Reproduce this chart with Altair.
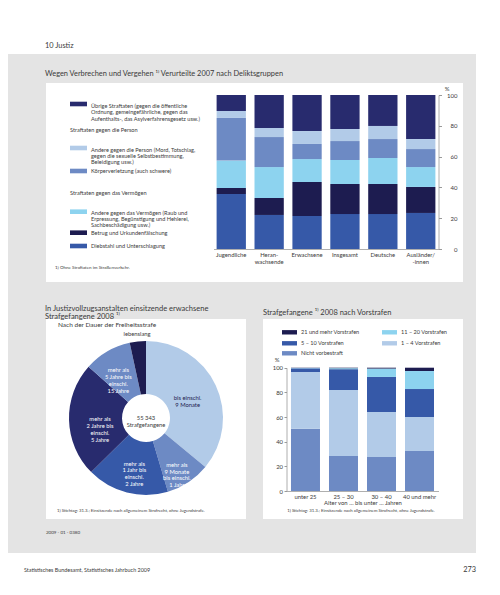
import altair as alt
import pandas as pd

# ================= DATA =================
# Chart 1: Wegen Verbrechen und Vergehen Verurteilte 2007 nach Deliktsgruppen (%)
gruppen = ["Jugendliche", "Heran-\nwachsende", "Erwachsene", "Insgesamt", "Deutsche", "Ausländer/\n-innen"]
delikte = ["Diebstahl und Unterschlagung", "Betrug und Urkundenfälschung",
           "Andere gegen das Vermögen", "Körperverletzung (auch schwere)",
           "Andere gegen die Person", "Übrige Straftaten"]
delikt_legende = [
    "Diebstahl und Unterschlagung",
    "Betrug und Urkundenfälschung",
    "Andere gegen das Vermögen (Raub und\nErpressung, Begünstigung und Hehlerei,\nSachbeschädigung usw.)",
    "Körperverletzung (auch schwere)",
    "Andere gegen die Person (Mord, Totschlag,\ngegen die sexuelle Selbstbestimmung,\nBeleidigung usw.)",
    "Übrige Straftaten (gegen die öffentliche\nOrdnung, gemeingefährliche, gegen das\nAufenthalts-, das Asylverfahrensgesetz usw.)",
]
diebstahl = [35.7, 22.1, 21.4, 22.7, 22.7, 23.4]
betrug = [3.9, 11.0, 22.1, 19.5, 19.5, 16.9]
andere_vermoegen = [17.8, 20.1, 14.9, 15.6, 16.9, 12.9]
koerperverletzung = [27.7, 19.5, 9.8, 12.3, 12.3, 11.7]
andere_person = [4.5, 5.9, 8.4, 7.8, 8.5, 6.5]
uebrige = [10.4, 21.4, 23.4, 22.1, 20.1, 28.6]
achse1 = [0, 20, 40, 60, 80, 100]

# Chart 2: Strafgefangene 2008 nach Dauer der Freiheitsstrafe (%)
dauer = ["bis einschl. 9 Monate", "mehr als 9 Monate bis einschl. 1 Jahr",
         "mehr als 1 Jahr bis einschl. 2 Jahre", "mehr als 2 Jahre bis einschl. 5 Jahre",
         "mehr als 5 Jahre bis einschl. 15 Jahre", "lebenslang"]
dauer_text = ["bis einschl.\n9 Monate", "mehr als\n9 Monate\nbis einschl.\n1 Jahr",
              "mehr als\n1 Jahr bis\neinschl.\n2 Jahre", "mehr als\n2 Jahre bis\neinschl.\n5 Jahre",
              "mehr als\n5 Jahre bis\neinschl.\n15 Jahre", "lebenslang"]
dauer_anteil = [36.0, 9.4, 17.2, 24.0, 10.0, 3.4]
gesamt_text = "55 343\nStrafgefangene"

# Chart 3: Strafgefangene 2008 nach Vorstrafen (%)
alter = ["unter 25", "25 – 30", "30 – 40", "40 und mehr"]
vorstrafen = ["Nicht vorbestraft", "1 – 4 Vorstrafen", "5 – 10 Vorstrafen",
              "11 – 20 Vorstrafen", "21 und mehr Vorstrafen"]
nicht_vorbestraft = [50.5, 28.4, 27.6, 32.4]
vorstr_1_4 = [46.0, 53.5, 36.5, 27.6]
vorstr_5_10 = [3.0, 16.9, 28.4, 22.7]
vorstr_11_20 = [0.3, 0.8, 6.8, 14.6]
vorstr_21_mehr = [0.2, 0.4, 0.7, 2.7]
achse3 = [0, 20, 40, 60, 80, 100]

# ================= STYLE / LAYOUT =================
FONT = "Lato"
TXT = "#3a3a3a"
GREY = "#e4e4e4"
AXC = "#9a9a9a"
NAVY = "#1d1c50"
DARK = "#282b6e"
MED = "#3659a8"
STEEL = "#6d8ac4"
LIGHT = "#b2cbe8"
CYAN = "#8dd3ef"

cols1 = [MED, NAVY, CYAN, STEEL, LIGHT, DARK]
cols2 = [LIGHT, STEEL, MED, DARK, STEEL, NAVY]
label_col2 = [NAVY, "white", "white", "white", "white", TXT]
label_r2 = [46, 56, 47, 46, 55, 84]
cols3 = [STEEL, LIGHT, MED, CYAN, NAVY]

W, H = 484, 579
OX, OY = 8, 8
one = alt.Data(values=[{"k": 0}])


def txt(s, x, y, size, align="left", color=TXT, lh=None, baseline="middle"):
    m = dict(font=FONT, fontSize=size, align=align, baseline=baseline, color=color, lineBreak="\n")
    if lh:
        m["lineHeight"] = lh
    return alt.Chart(one).mark_text(**m).encode(
        x=alt.value(x - OX), y=alt.value(y - OY), text=alt.value(s))


def box(x1, y1, x2, y2, color):
    return alt.Chart(one).mark_rect(color=color).encode(
        x=alt.value(x1 - OX), x2=alt.value(x2 - OX), y=alt.value(y1 - OY), y2=alt.value(y2 - OY))


layers = []
# backgrounds
layers.append(box(2, 54, 476, 553, GREY))
layers.append(box(46, 83, 463, 282, "white"))
layers.append(box(46, 319, 246, 519, "white"))
layers.append(box(263, 319, 463, 519, "white"))

# ---------- chart 1 bars ----------
series1 = [diebstahl, betrug, andere_vermoegen, koerperverletzung, andere_person, uebrige]
rows = []
for gi, g in enumerate(gruppen):
    for di, d in enumerate(delikte):
        rows.append({"gruppe": g, "delikt": d, "anteil": series1[di][gi], "ord": di})
df1 = pd.DataFrame(rows)

bars1 = alt.Chart(df1).mark_bar().encode(
    x=alt.X("gruppe:N",
            scale=alt.Scale(domain=gruppen, range=[213.5 - OX, 438.5 - OX],
                            paddingInner=0.227, paddingOuter=0.082),
            axis=alt.Axis(orient="bottom", offset=(249 - OY) - H, title=None, ticks=False,
                          zindex=1, domainColor=AXC, domainWidth=0.8, labelAngle=0,
                          labelExpr="split(datum.label, '\\n')",
                          labelFont=FONT, labelFontSize=5.9, labelColor=TXT,
                          labelPadding=2, labelBaseline="top", labelLineHeight=7)),
    y=alt.Y("anteil:Q", stack="zero",
            scale=alt.Scale(domain=[0, 100], range=[249 - OY, 95 - OY], nice=False),
            axis=alt.Axis(orient="right", offset=(438.5 - OX) - W, values=achse1, title=None,
                          zindex=1, grid=False, tickSize=3, tickColor=AXC, domainColor=AXC,
                          domainWidth=0.8, labelAlign="right", labelPadding=15.5,
                          labelFont=FONT, labelFontSize=6, labelColor=TXT)),
    color=alt.Color("delikt:N", scale=alt.Scale(domain=delikte, range=cols1), legend=None),
    order=alt.Order("ord:Q"),
)
layers.append(bars1)

# ---------- chart 2 donut ----------
df2 = pd.DataFrame({"dauer": dauer, "anteil": dauer_anteil, "ord": list(range(len(dauer))),
                    "label": dauer_text, "lr": label_r2, "tc": label_col2})
CX, CY = 146 - OX, 418 - OY
arc = alt.Chart(df2).mark_arc(innerRadius=24, outerRadius=77, x=CX, y=CY).encode(
    theta=alt.Theta("anteil:Q", stack=True),
    color=alt.Color("dauer:N", scale=alt.Scale(domain=dauer, range=cols2), legend=None),
    order=alt.Order("ord:Q"),
)
layers.append(arc)

# slice labels: placed at each slice's mid angle (computed by the library transforms)
arc_lbl = alt.Chart(df2).transform_window(
    cum="sum(anteil)", sort=[alt.SortField("ord")], frame=[None, 0]
).transform_joinaggregate(
    total="sum(anteil)"
).transform_calculate(
    mid="(datum.cum - datum.anteil / 2) / datum.total * 2 * PI",
    px=f"{CX} + datum.lr * sin(datum.mid)",
    py=f"{CY} - datum.lr * cos(datum.mid)",
).mark_text(font=FONT, fontSize=5.8, lineBreak="\n", lineHeight=6.8,
            align="center", baseline="middle").encode(
    x=alt.X("px:Q", scale=None, axis=None),
    y=alt.Y("py:Q", scale=None, axis=None),
    text=alt.Text("label:N"),
    fill=alt.Fill("tc:N", scale=None),
)
layers.append(arc_lbl)

# ---------- chart 3 bars ----------
series3 = [nicht_vorbestraft, vorstr_1_4, vorstr_5_10, vorstr_11_20, vorstr_21_mehr]
rows3 = []
for ai, a in enumerate(alter):
    for vi, v in enumerate(vorstrafen):
        rows3.append({"alter": a, "vorstrafen": v, "anteil": series3[vi][ai], "ord": vi})
df3 = pd.DataFrame(rows3)

bars3 = alt.Chart(df3).mark_bar().encode(
    x=alt.X("alter:N",
            scale=alt.Scale(domain=alter, range=[286.5 - OX, 438.5 - OX],
                            paddingInner=0.237, paddingOuter=0.118),
            axis=alt.Axis(orient="bottom", offset=(491 - OY) - H, zindex=1,
                          title="Alter von … bis unter … Jahren", titleFont=FONT,
                          titleFontSize=5.9, titleFontWeight="normal", titleColor=TXT,
                          titlePadding=0.5, ticks=False, domainColor=AXC, domainWidth=0.8,
                          labelAngle=0, labelFont=FONT, labelFontSize=5.9, labelColor=TXT,
                          labelPadding=2, labelBaseline="top")),
    y=alt.Y("anteil:Q", stack="zero",
            scale=alt.Scale(domain=[0, 100], range=[491 - OY, 367.7 - OY], nice=False),
            axis=alt.Axis(orient="left", offset=-(286.5 - OX), values=achse3, title=None,
                          zindex=1, grid=False, tickSize=2.5, tickColor=AXC, domainColor=AXC,
                          domainWidth=0.8, labelPadding=1.5, labelFont=FONT,
                          labelFontSize=5.9, labelColor=TXT)),
    color=alt.Color("vorstrafen:N", scale=alt.Scale(domain=vorstrafen, range=cols3), legend=None),
    order=alt.Order("ord:Q"),
)
layers.append(bars3)

# ---------- texts ----------
layers.append(txt("10  Justiz", 45, 46, 7.4))
layers.append(txt("Wegen Verbrechen und Vergehen \u00b9\u207e Verurteilte 2007 nach Deliktsgruppen", 45, 74, 7.4))
layers.append(txt("%", 447, 89, 5.9, align="center"))

# chart 1 legend (page y of swatch centre, page y of text centre)
leg1_layout = [(5, 104, 106), (4, 148, 149.5), (3, 171, 171),
               (2, 211.7, 212.9), (1, 232.7, 232.7), (0, 246, 246)]
for di, ys, yt in leg1_layout:
    layers.append(box(70, ys - 2.3, 87, ys + 2.3, cols1[di]))
    layers.append(txt(delikt_legende[di], 91, yt, 5.6, lh=6.3))
layers.append(txt("Straftaten gegen die Person", 70, 130, 5.6))
layers.append(txt("Straftaten gegen das Vermögen", 70, 193.3, 5.6))
layers.append(txt("1) Ohne Straftaten im Straßenverkehr.", 55, 268.3, 4.5))

# chart 2 texts
layers.append(txt("In Justizvollzugsanstalten einsitzende erwachsene\nStrafgefangene 2008 \u00b9\u207e",
                  45, 308.5, 7.5, lh=8.8))
layers.append(txt("Nach der Dauer der Freiheitsstrafe", 58, 325, 6.5))
layers.append(txt(gesamt_text, 146, 418, 5.8, align="center", lh=6.8))
layers.append(txt("1) Stichtag: 31.3.; Einsitzende nach allgemeinem Strafrecht, ohne Jugendstrafe.",
                  57, 510.7, 4.3))

# chart 3 texts
layers.append(txt("Strafgefangene \u00b9\u207e 2008 nach Vorstrafen", 263, 313, 7.5))
leg3_layout = [(4, 282, 332.3), (2, 282, 343.3), (0, 282, 353.3), (3, 382, 332.3), (1, 382, 343.3)]
for vi, xs, ys in leg3_layout:
    layers.append(box(xs, ys - 2.2, xs + 15, ys + 2.2, cols3[vi]))
    layers.append(txt(vorstrafen[vi], xs + 19, ys, 5.6))
layers.append(txt("%", 277, 360, 5.9, align="center"))
layers.append(txt("1) Stichtag: 31.3.; Einsitzende nach allgemeinem Strafrecht, ohne Jugendstrafe.",
                  361, 510.7, 4.3, align="center"))

# page footer
layers.append(txt("2009 - 01 - 0380", 46, 533, 4.5))
layers.append(txt("Statistisches Bundesamt, Statistisches Jahrbuch 2009", 24, 570, 5.4))
layers.append(txt("273", 476, 570, 7.4, align="right"))

chart = alt.layer(*layers).resolve_scale(
    x="independent", y="independent", color="independent", theta="independent"
).resolve_axis(
    x="independent", y="independent"
).properties(
    width=W, height=H, autosize=alt.AutoSizeParams(type="none"), padding=0, background="white"
).configure_view(stroke=None)

chart.save("out.html", embed_options={"renderer": "svg", "actions": False})
